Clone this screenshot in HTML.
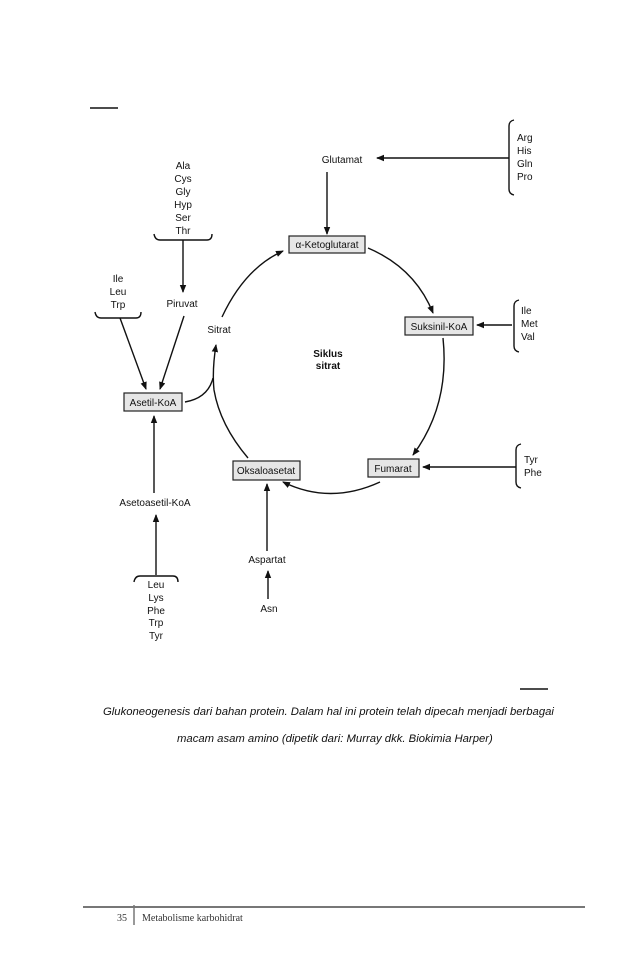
<!DOCTYPE html>
<html><head><meta charset="utf-8"><style>
html,body{margin:0;padding:0;background:#fff;}
body{width:638px;height:976px;position:relative;overflow:hidden;font-family:"Liberation Sans",sans-serif;}
svg{position:absolute;left:0;top:0;}
.t{font-family:"Liberation Sans",sans-serif;font-size:10px;fill:#111;}
.b{font-weight:bold;}
.cap{position:absolute;font-family:"Liberation Sans",sans-serif;font-style:italic;font-size:11.3px;color:#111;white-space:nowrap;}
</style></head><body>
<svg width="638" height="976" viewBox="0 0 638 976">
<defs><marker id="a" markerWidth="8" markerHeight="8" refX="7" refY="4" orient="auto" markerUnits="userSpaceOnUse"><path d="M0,0.8 L8,4 L0,7.2 Z" fill="#111"/></marker></defs>
<g stroke="#111" stroke-width="1.4" fill="none">
<line x1="90" y1="108" x2="118" y2="108"/>
<line x1="520" y1="689" x2="548" y2="689"/>
<path d="M514,120 Q509,121 509,126 L509,189 Q509,194 514,195"/>
<line x1="509" y1="158" x2="377" y2="158" marker-end="url(#a)"/>
<line x1="327" y1="172" x2="327" y2="234" marker-end="url(#a)"/>
<path d="M154,234 Q155,240 160,240 L207,240 Q212,240 212,234"/>
<line x1="183" y1="240" x2="183" y2="292" marker-end="url(#a)"/>
<path d="M95,312 Q96,318 101,318 L136,318 Q141,318 141,312"/>
<line x1="120" y1="318" x2="146" y2="389" marker-end="url(#a)"/>
<line x1="184" y1="316" x2="160" y2="389" marker-end="url(#a)"/>
<path d="M248,458 Q220,425 214,390 Q212,370 216,345" marker-end="url(#a)"/>
<path d="M185,402 Q208,398 213,378"/>
<path d="M222,317 Q245,268 283,251" marker-end="url(#a)"/>
<path d="M368,248 Q415,268 433,313" marker-end="url(#a)"/>
<path d="M443,338 Q450,405 413,455" marker-end="url(#a)"/>
<path d="M380,482 Q330,505 283,482" marker-end="url(#a)"/>
<path d="M519,300 Q514,301 514,306 L514,346 Q514,351 519,352"/>
<line x1="512" y1="325" x2="477" y2="325" marker-end="url(#a)"/>
<path d="M521,444 Q516,445 516,450 L516,482 Q516,487 521,488"/>
<line x1="516" y1="467" x2="423" y2="467" marker-end="url(#a)"/>
<line x1="267" y1="551" x2="267" y2="484" marker-end="url(#a)"/>
<line x1="268" y1="599" x2="268" y2="571" marker-end="url(#a)"/>
<line x1="154" y1="493" x2="154" y2="416" marker-end="url(#a)"/>
<line x1="156" y1="575" x2="156" y2="515" marker-end="url(#a)"/>
<path d="M134,582 Q135,576 140,576 L173,576 Q178,576 178,582"/>
</g>
<g stroke="#222" stroke-width="1.2" fill="#e6e6e6">
<rect x="289" y="236" width="76" height="17"/>
<rect x="405" y="317" width="68" height="18"/>
<rect x="124" y="393" width="58" height="18"/>
<rect x="368" y="459" width="51" height="18"/>
<rect x="233" y="461" width="67" height="19"/>
</g>
<g class="t">
<text x="342" y="163" text-anchor="middle">Glutamat</text>
<text x="517" y="141">Arg</text><text x="517" y="154">His</text><text x="517" y="167">Gln</text><text x="517" y="180">Pro</text>
<g text-anchor="middle"><text x="183" y="169">Ala</text><text x="183" y="182">Cys</text><text x="183" y="195">Gly</text><text x="183" y="208">Hyp</text><text x="183" y="221">Ser</text><text x="183" y="234">Thr</text>
<text x="118" y="282">Ile</text><text x="118" y="295">Leu</text><text x="118" y="308">Trp</text>
<text x="182" y="307">Piruvat</text>
<text x="327" y="248">α-Ketoglutarat</text>
<text x="439" y="330">Suksinil-KoA</text>
<text x="153" y="406">Asetil-KoA</text>
<text x="393" y="472">Fumarat</text>
<text x="266" y="474">Oksaloasetat</text>
<text x="219" y="333">Sitrat</text>
<text x="328" y="357" class="b">Siklus</text><text x="328" y="369" class="b">sitrat</text>
<text x="155" y="506">Asetoasetil-KoA</text>
<text x="267" y="563">Aspartat</text>
<text x="269" y="612">Asn</text>
<text x="156" y="588">Leu</text><text x="156" y="601">Lys</text><text x="156" y="614">Phe</text><text x="156" y="626">Trp</text><text x="156" y="639">Tyr</text></g>
<text x="521" y="314">Ile</text><text x="521" y="327">Met</text><text x="521" y="340">Val</text>
<text x="524" y="463">Tyr</text><text x="524" y="476">Phe</text>
</g>
<line x1="83" y1="907" x2="585" y2="907" stroke="#777" stroke-width="2"/>
<line x1="134" y1="905" x2="134" y2="925" stroke="#777" stroke-width="1.5"/>
<text x="117" y="921" font-family="Liberation Serif,serif" font-size="10" fill="#333">35</text>
<text x="142" y="921" font-family="Liberation Serif,serif" font-size="10" fill="#333">Metabolisme karbohidrat</text>
</svg>
<div class="cap" style="left:103px;top:706px;">Glukoneogenesis dari bahan protein. Dalam hal ini protein telah dipecah menjadi berbagai</div>
<div class="cap" style="left:177px;top:733px;">macam asam amino (dipetik dari: Murray dkk. Biokimia Harper)</div>
</body></html>
